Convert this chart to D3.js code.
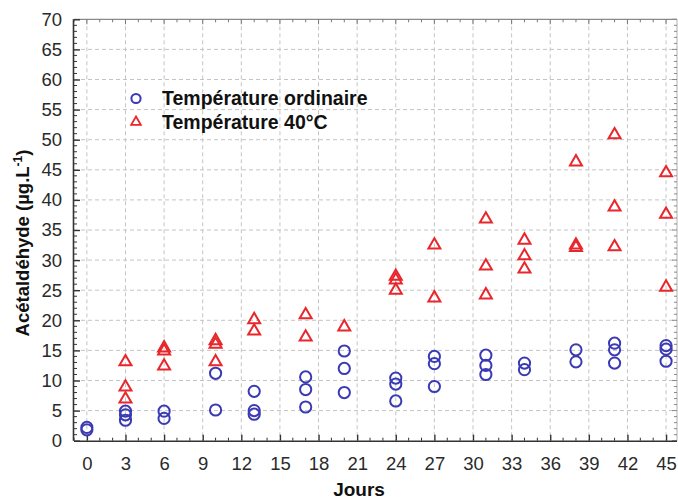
<!DOCTYPE html>
<html><head><meta charset="utf-8">
<script src="https://cdn.jsdelivr.net/npm/d3@7"></script>
<style>
html,body{margin:0;padding:0;background:#fff;}
text{font-family:"Liberation Sans",Arial,sans-serif;}
</style></head>
<body><svg id="chart" width="678" height="501"></svg>
<script>
// ---- data ----
const ambientDays   = [0,0, 3,3,3, 6,6, 10,10, 13,13,13, 17,17,17, 20,20,20, 24,24,24, 27,27,27, 31,31,31, 34,34, 38,38, 41,41,41, 45,45,45];
const ambientValues = [2.2,1.8, 4.9,4.3,3.4, 4.9,3.7, 11.2,5.1, 8.2,5.0,4.4, 10.6,8.5,5.6, 14.9,12.0,8.0, 10.4,9.4,6.6, 14.0,12.8,9.0, 14.2,12.5,11.0, 12.9,11.8, 15.1,13.1, 16.2,15.1,12.9, 15.8,15.2,13.2];
const hotDays   = [3,3,3, 6,6,6, 10,10,10, 13,13, 17,17, 20, 24,24,24, 27,27, 31,31,31, 34,34,34, 38,38,38, 41,41,41, 45,45,45];
const hotValues = [13.1,8.9,6.9, 15.4,14.9,12.4, 16.6,16.0,13.1, 20.1,18.2, 20.9,17.2, 18.9, 27.3,26.7,25.0, 32.5,23.7, 36.8,29.0,24.2, 33.3,30.7,28.5, 46.3,32.5,32.1, 50.8,38.8,32.2, 44.5,37.6,25.5];
const xTicks = [0,3,6,9,12,15,18,21,24,27,30,33,36,39,42,45];
const yTicks = [0,5,10,15,20,25,30,35,40,45,50,55,60,65,70];
const seriesNames = ["Température ordinaire","Température 40°C"];
const xTitle = "Jours";
const yTitle = "Acétaldéhyde (µg.L";

// ---- layout ----
const svg = d3.select("#chart");
const L = 74, R = 677, T = 19.3, B = 440.7;
const x = d3.scaleLinear().domain([-1, 45.85]).range([L, R]);
const y = d3.scaleLinear().domain([0, 70]).range([B, T]);
const blue = "#3a3ab4", red = "#e8262b";

// grid
const grid = svg.append("g").attr("stroke","#c4c4c4").attr("stroke-width",1).attr("stroke-dasharray","4,3");
grid.selectAll("line.v").data(xTicks).join("line").attr("class","v")
  .attr("x1",d=>x(d)).attr("x2",d=>x(d)).attr("y1",T).attr("y2",B);
grid.selectAll("line.h").data(yTicks.filter(d=>d>0&&d<70)).join("line").attr("class","h")
  .attr("x1",L).attr("x2",R).attr("y1",d=>y(d)).attr("y2",d=>y(d));

// frame: top and right (gray)
svg.append("line").attr("x1",L).attr("x2",R).attr("y1",T).attr("y2",T).attr("stroke","#8a8a8a").attr("stroke-width",1.2);
svg.append("line").attr("x1",R).attr("x2",R).attr("y1",T).attr("y2",B).attr("stroke","#b0b0b0").attr("stroke-width",1);
const dayMinor = d3.range(-1, 46);
svg.append("g").selectAll("line").data(dayMinor).join("line")
  .attr("x1",d=>x(d)).attr("x2",d=>x(d)).attr("y1",T).attr("y2",d=>T+(d%3===0?5:3))
  .attr("stroke","#777").attr("stroke-width",1);
const valMinor = d3.range(0, 71);
svg.append("g").selectAll("line").data(valMinor).join("line")
  .attr("x1",R).attr("x2",d=>R-(d%5===0?5:3)).attr("y1",d=>y(d)).attr("y2",d=>y(d))
  .attr("stroke","#888").attr("stroke-width",1);

// bottom axis
const xAxis = d3.axisBottom(x).tickValues(xTicks).tickSizeInner(-6).tickSizeOuter(0).tickPadding(16);
const gx = svg.append("g").attr("transform",`translate(0,${B})`).call(xAxis);
gx.select(".domain").attr("d",`M${L},0.5H${R}`).attr("stroke","#333").attr("stroke-width",1.6);
gx.selectAll(".tick line").attr("stroke","#333").attr("stroke-width",1.4);
gx.selectAll(".tick text").attr("font-size","18.5px").attr("fill","#2a2a2a").attr("font-family","Liberation Sans, Arial, sans-serif");
svg.append("g").selectAll("line").data(dayMinor.filter(d=>d%3!==0)).join("line")
  .attr("x1",d=>x(d)).attr("x2",d=>x(d)).attr("y1",B).attr("y2",B-3)
  .attr("stroke","#333").attr("stroke-width",1);

// left axis
const yAxis = d3.axisLeft(y).tickValues(yTicks).tickSizeInner(-6).tickSizeOuter(0).tickPadding(12);
const gy = svg.append("g").attr("transform",`translate(${L},0)`).call(yAxis);
gy.select(".domain").attr("d",`M-0.5,${T}V${B}`).attr("stroke","#333").attr("stroke-width",1.6);
gy.selectAll(".tick line").attr("stroke","#333").attr("stroke-width",1.4);
gy.selectAll(".tick text").attr("font-size","18.5px").attr("fill","#2a2a2a").attr("font-family","Liberation Sans, Arial, sans-serif");
svg.append("g").selectAll("line").data(valMinor.filter(d=>d%5!==0)).join("line")
  .attr("x1",L).attr("x2",L+3).attr("y1",d=>y(d)).attr("y2",d=>y(d))
  .attr("stroke","#333").attr("stroke-width",1);

// points
const ambient = ambientDays.map((d,i)=>({day:d, v:ambientValues[i]}));
const hot = hotDays.map((d,i)=>({day:d, v:hotValues[i]}));
svg.append("g").selectAll("circle").data(ambient).join("circle")
  .attr("cx",d=>x(d.day)).attr("cy",d=>y(d.v)).attr("r",5.6)
  .attr("fill","none").attr("stroke",blue).attr("stroke-width",2);
const tri = d3.symbol(d3.symbolTriangle, 62);
svg.append("g").selectAll("path").data(hot).join("path")
  .attr("d",tri).attr("transform",d=>`translate(${x(d.day)},${y(d.v)})`)
  .attr("fill","none").attr("stroke",red).attr("stroke-width",2);

// legend
const lg = svg.append("g");
lg.append("circle").attr("cx",136).attr("cy",98.5).attr("r",4.6).attr("fill","none").attr("stroke",blue).attr("stroke-width",2);
lg.append("path").attr("d",d3.symbol(d3.symbolTriangle,40)).attr("transform","translate(136,122)")
  .attr("fill","none").attr("stroke",red).attr("stroke-width",1.8);
lg.append("text").attr("x",162).attr("y",105).attr("font-size","19.5px").attr("font-weight","bold").attr("fill","#111").text(seriesNames[0]);
lg.append("text").attr("x",162).attr("y",128.5).attr("font-size","19.5px").attr("font-weight","bold").attr("fill","#111").text(seriesNames[1]);

// titles
svg.append("text").attr("x",359).attr("y",496).attr("text-anchor","middle")
  .attr("font-size","19px").attr("font-weight","bold").attr("fill","#111").text(xTitle);
const yt = svg.append("text").attr("transform","translate(29,243) rotate(-90)").attr("text-anchor","middle")
  .attr("font-size","18.5px").attr("font-weight","bold").attr("fill","#111");
yt.append("tspan").text(yTitle);
yt.append("tspan").attr("font-size","12px").attr("dy","-7").text("-1");
yt.append("tspan").attr("dy","7").text(")");
</script></body></html>
